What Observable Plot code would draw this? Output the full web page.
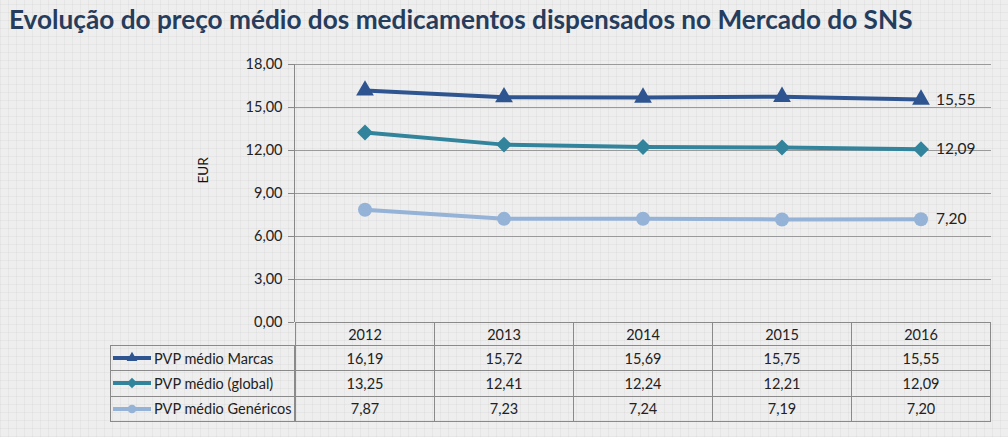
<!DOCTYPE html>
<html>
<head>
<meta charset="utf-8">
<script src="https://cdn.jsdelivr.net/npm/d3@7"></script>
<script src="https://cdn.jsdelivr.net/npm/@observablehq/plot@0.6"></script>
<style>
  html, body { margin: 0; padding: 0; }
  body {
    width: 1008px; height: 437px; overflow: hidden; position: relative;
    font-family: Lato, "Open Sans", sans-serif;
    background-color: #eeeeee;
    background-image:
      repeating-linear-gradient(0deg, rgba(0,0,0,0.035) 0 1px, transparent 1px 8px),
      repeating-linear-gradient(90deg, rgba(0,0,0,0.035) 0 1px, transparent 1px 8px);
  }
  #title {
    position: absolute; left: 9px; top: 3px;
    font-size: 26.2px; font-weight: bold; color: #263c5c; white-space: nowrap;
  }
  #chart { position: absolute; left: 0; top: 40px; }
  #table { position: absolute; left: 0; top: 0; }
  .cell { position: absolute; box-sizing: border-box; font-size: 14.5px; color: #222;
          display: flex; align-items: center; justify-content: center; }
</style>
</head>
<body>
<div id="title">Evolução do preço médio dos medicamentos dispensados no Mercado do SNS</div>
<div id="chart"></div>
<div id="table"></div>
<script>
const years = ["2012", "2013", "2014", "2015", "2016"];
const seriesNames = ["PVP médio Marcas", "PVP médio (global)", "PVP médio Genéricos"];
const marcas = [16.19, 15.72, 15.69, 15.75, 15.55];
const global = [13.25, 12.41, 12.24, 12.21, 12.09];
const genericos = [7.87, 7.23, 7.24, 7.19, 7.20];
const yTicks = [0, 3, 6, 9, 12, 15, 18];
const colors = ["#2f5590", "#31849b", "#95b3d7"];
const symbols = ["triangle", "diamond2", "circle"];
const markerR = [6.6, 7.2, 7];

const values = [marcas, global, genericos];
const data = [];
seriesNames.forEach((s, i) => years.forEach((y, j) => data.push({series: s, year: y, value: values[i][j], idx: i})));
const last = data.filter(d => d.year === years[years.length - 1]);

const fmt = v => v.toFixed(2).replace(".", ",");

const W = 1008, H = 290;
const plot = Plot.plot({
  width: W, height: H,
  marginLeft: 294, marginRight: 17, marginTop: 24, marginBottom: 8,
  style: {background: "transparent", fontFamily: "Lato, 'Open Sans', sans-serif", fontSize: "14.5px", color: "#222"},
  x: {type: "band", domain: years, padding: 0, axis: null},
  y: {domain: [0, 18], ticks: yTicks, tickFormat: fmt, label: null},
  r: {type: "identity"},
  marks: [
    Plot.ruleY(yTicks.filter(t => t > 0), {stroke: "#9a9a9a", strokeWidth: 1}),
    Plot.axisY({ticks: yTicks, tickFormat: fmt, tickSize: 6, tickPadding: 6, stroke: "#888", fontSize: 14.5, fill: "#222", label: null}),
    Plot.lineY(data, {x: "year", y: "value", z: "series", stroke: d => colors[d.idx], strokeWidth: 4}),
    Plot.dot(data, {x: "year", y: "value", symbol: d => symbols[d.idx], r: d => markerR[d.idx], fill: d => colors[d.idx], stroke: "none"}),
    Plot.text(last, {x: "year", y: "value", text: d => fmt(d.value), dx: 15, textAnchor: "start", fill: "#222", fontSize: 15.5}),
    Plot.text(["EUR"], {frameAnchor: "left", dx: -91, dy: -10, rotate: -90, fontSize: 13.5, fill: "#111"})
  ]
});
document.getElementById("chart").appendChild(plot);

const xs = plot.scale("x"), ys = plot.scale("y");
const svg = d3.select(plot);
const top0 = 40;
svg.append("line").attr("x1", xs.range[0] + 0.5).attr("x2", xs.range[0] + 0.5)
  .attr("y1", ys.apply(18)).attr("y2", ys.apply(0)).attr("stroke", "#888");

const tbl = d3.select("#table");
const tableTop = top0 + ys.apply(0);
const headerH = 23, rowH = 25.3;
const left = 110, colX = xs.range[0], bw = xs.bandwidth;
const border = "1px solid #8a8a8a";
years.forEach((y) => {
  tbl.append("div").attr("class", "cell")
    .style("left", xs.apply(y) + "px").style("top", tableTop + "px")
    .style("width", (bw + 1) + "px").style("height", (headerH + 1) + "px")
    .style("border", border).text(y);
});
const legSym = [d3.symbolTriangle, d3.symbolDiamond2, d3.symbolCircle];
const legSize = [50, 70, 60];
seriesNames.forEach((s, i) => {
  const t = tableTop + headerH + i * rowH;
  const lab = tbl.append("div").attr("class", "cell")
    .style("left", left + "px").style("top", t + "px")
    .style("width", (colX - left + 1) + "px").style("height", (rowH + 1) + "px")
    .style("border", border).style("justify-content", "flex-start");
  const ic = lab.append("svg").attr("width", 40).attr("height", 14).style("margin-left", "2px").style("flex", "none");
  ic.append("line").attr("x1", 0).attr("x2", 38).attr("y1", 7).attr("y2", 7).attr("stroke", colors[i]).attr("stroke-width", 4);
  ic.append("path").attr("transform", "translate(19,7)")
    .attr("d", d3.symbol(legSym[i], legSize[i])())
    .attr("fill", colors[i]);
  lab.append("span").text(s).style("margin-left", "1px");
  years.forEach((y, j) => {
    tbl.append("div").attr("class", "cell")
      .style("left", xs.apply(y) + "px").style("top", t + "px")
      .style("width", (bw + 1) + "px").style("height", (rowH + 1) + "px")
      .style("border", border).text(fmt(values[i][j]));
  });
});
</script>
</body>
</html>
